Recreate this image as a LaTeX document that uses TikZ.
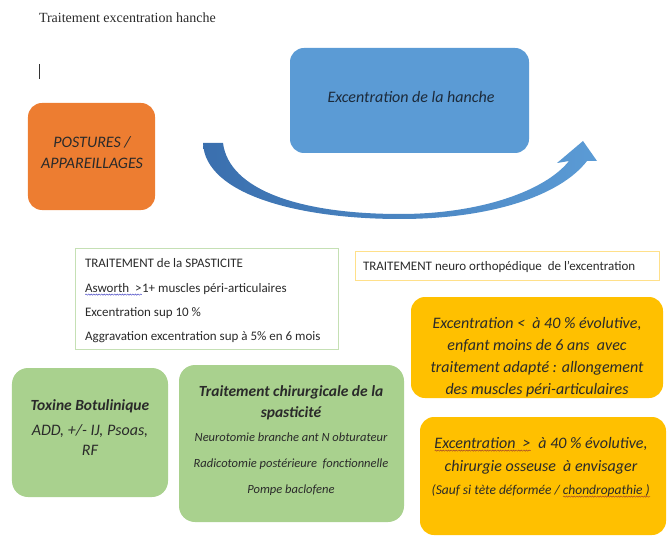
\documentclass[tikz,border=0pt]{standalone}
\usepackage{fontspec}
\setmainfont{Carlito}
\newfontfamily\titleserif{Liberation Serif}
\usetikzlibrary{decorations.pathmorphing}
\definecolor{orangeF}{HTML}{ED7D31}
\definecolor{blueF}{HTML}{5B9BD5}
\definecolor{goldF}{HTML}{FFC000}
\definecolor{greenF}{HTML}{A9D18E}
\definecolor{greenL}{HTML}{C5E0B4}
\definecolor{goldL}{HTML}{FFE08A}
\definecolor{arrowD}{HTML}{3A6FAE}
\definecolor{arrowL}{HTML}{5B9BD5}
\definecolor{txt}{HTML}{2A2A2A}
\definecolor{navytxt}{HTML}{1C2A3A}
\definecolor{spellblue}{HTML}{5050C8}
\definecolor{spellred}{HTML}{A84A2A}
\newsavebox{\spellbox}
\newcommand{\spellu}[2]{\sbox{\spellbox}{#2}\rlap{\usebox{\spellbox}}\raisebox{-2.6bp}{\tikz[baseline=(sA.base)]{\coordinate (sA) at (0pt,0pt); \draw[#1, line width=0.5bp, decorate, decoration={snake, amplitude=0.6bp, segment length=2.6bp}] (0pt,0pt) -- (\wd\spellbox,0pt);}}}
\tikzset{
  box/.style={shape=rectangle, inner sep=0pt, outer sep=0pt, rounded corners=14bp},
  wbox/.style={shape=rectangle, inner sep=0pt, outer sep=0pt, fill=white, line width=1bp},
  lbl/.style={anchor=base, inner sep=0pt, outer sep=0pt, text=txt},
  fA/.style={font=\fontsize{16bp}{19bp}\selectfont\itshape},
  fB/.style={font=\fontsize{15.5bp}{19bp}\selectfont\bfseries\itshape},
  fC/.style={font=\fontsize{12.5bp}{15bp}\selectfont\itshape},
  fD/.style={font=\fontsize{13bp}{16bp}\selectfont},
  fE/.style={font=\fontsize{13.5bp}{16bp}\selectfont\itshape},
}
\begin{document}
\begin{tikzpicture}[x=1bp,y=-1bp]
\useasboundingbox (0,0) rectangle (667,536);

% title and cursor
\node[lbl, anchor=base west, font=\fontsize{14bp}{17bp}\selectfont\titleserif] (title) at (39,23) {Traitement excentration hanche};
\draw[line width=0.9bp, black!80] (39,64) -- (39,79);

% boxes
\node[box, fill=orangeF, minimum width=127bp, minimum height=107bp] (postures) at (91.5,156.5) {};
\node[box, fill=blueF, minimum width=239bp, minimum height=105bp] (hanche) at (409.5,100.5) {};
\node[wbox, draw=greenL, minimum width=262bp, minimum height=100bp] (spast) at (207,299) {};
\node[wbox, draw=goldL, minimum width=304bp, minimum height=28bp] (neuro) at (507,266) {};
\node[box, fill=goldF, minimum width=252bp, minimum height=101bp] (gold1) at (537,347.5) {};
\node[box, fill=goldF, minimum width=246bp, minimum height=118bp] (gold2) at (543,476) {};
\node[box, rounded corners=16bp, fill=greenF, minimum width=156bp, minimum height=129bp] (toxine) at (90,432.5) {};
\node[box, rounded corners=16bp, fill=greenF, minimum width=225bp, minimum height=157bp] (chir) at (291.5,443.5) {};

% curved arrow
\shade[left color=arrowD, right color=arrowL]
  (203,143) .. controls (205,195) and (300,219) .. (400,219)
  .. controls (490,219) and (560,196) .. (587,161)
  -- (597,161) -- (583,141) -- (557,163) -- (569,161)
  .. controls (545,191) and (480,214) .. (400,214)
  .. controls (300,214) and (229,190) .. (223,143) -- cycle;

% texts: orange
\node[lbl, fA, text=txt] (post1) at (92,148) {POSTURES /};
\node[lbl, fA, text=txt] (post2) at (92,169) {APPAREILLAGES};
% blue
\node[lbl, fA, text=navytxt] (hanchet) at (411,103) {Excentration de la hanche};
% spasticite box
\node[lbl, fD, anchor=base west] (sp1) at (85,267) {TRAITEMENT de la SPASTICITE};
\node[lbl, fD, anchor=base west] (sp2) at (85,292) {\spellu{spellblue}{Asworth~ >}1+ muscles péri-articulaires};
\node[lbl, fD, anchor=base west] (sp3) at (85,316) {Excentration sup 10 \%};
\node[lbl, fD, anchor=base west] (sp4) at (85,340) {Aggravation excentration sup à 5\% en 6 mois};
% neuro box
\node[lbl, fD, anchor=base west] (neurot) at (363,270) {TRAITEMENT neuro orthopédique~ de l’excentration};
% gold 1
\node[lbl, fA] (g1a) at (537,328) {Excentration <~ à 40 \% évolutive,};
\node[lbl, fA] (g1b) at (537,350) {enfant moins de 6 ans~ avec};
\node[lbl, fA] (g1c) at (537,372) {traitement adapté : allongement};
\node[lbl, fA] (g1d) at (537,394) {des muscles péri-articulaires};
% gold 2
\node[lbl, fA] (g2a) at (541,448) {\spellu{spellred}{Excentration~ >}~ à 40 \% évolutive,};
\node[lbl, fA] (g2b) at (541,471) {chirurgie osseuse~ à envisager};
\node[lbl, fE] (g2c) at (541,494) {(Sauf si tète déformée / \spellu{spellred}{chondropathie )}};
% green 1
\node[lbl, fB] (tox1) at (90,410) {Toxine Botulinique};
\node[lbl, fA] (tox2) at (90,435) {ADD, +/- IJ, Psoas,};
\node[lbl, fA] (tox3) at (90,455) {RF};
% green 2
\node[lbl, fB] (ch1) at (291,396) {Traitement chirurgicale de la};
\node[lbl, fB] (ch2) at (291,417) {spasticité};
\node[lbl, fC] (ch3) at (291,441) {Neurotomie branche ant N obturateur};
\node[lbl, fC] (ch4) at (291,467) {Radicotomie postérieure~ fonctionnelle};
\node[lbl, fC] (ch5) at (291,493) {Pompe baclofene};
\end{tikzpicture}
\end{document}
